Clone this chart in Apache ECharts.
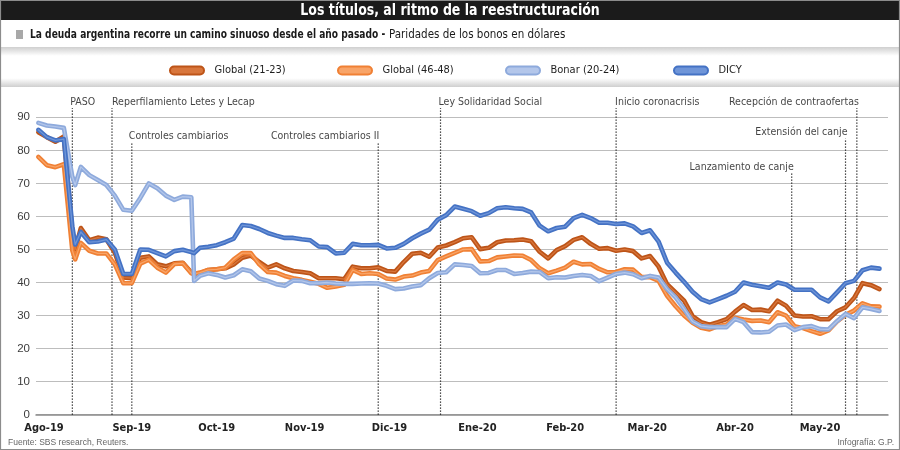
<!DOCTYPE html>
<html><head><meta charset="utf-8">
<script src="https://cdn.jsdelivr.net/npm/echarts@6/dist/echarts.min.js"></script>
<style>html,body{margin:0;padding:0;background:#fff}#c{width:900px;height:450px}</style>
</head><body><div id="c"></div>
<script>
const dates = ['2019-07-30','2019-08-02','2019-08-05','2019-08-08','2019-08-11','2019-08-12','2019-08-14','2019-08-17','2019-08-20','2019-08-23',
'2019-08-26','2019-08-29','2019-09-01','2019-09-04','2019-09-07','2019-09-10','2019-09-13','2019-09-16','2019-09-19','2019-09-22',
'2019-09-23','2019-09-25','2019-09-28','2019-10-01','2019-10-04','2019-10-07','2019-10-10','2019-10-13','2019-10-16','2019-10-19',
'2019-10-22','2019-10-25','2019-10-28','2019-10-31','2019-11-03','2019-11-06','2019-11-09','2019-11-12','2019-11-15','2019-11-18',
'2019-11-21','2019-11-24','2019-11-27','2019-11-30','2019-12-03','2019-12-06','2019-12-09','2019-12-12','2019-12-15','2019-12-18',
'2019-12-21','2019-12-24','2019-12-27','2019-12-30','2020-01-02','2020-01-05','2020-01-08','2020-01-11','2020-01-14','2020-01-17',
'2020-01-20','2020-01-23','2020-01-26','2020-01-29','2020-02-01','2020-02-04','2020-02-07','2020-02-10','2020-02-13','2020-02-16',
'2020-02-19','2020-02-22','2020-02-25','2020-02-28','2020-03-02','2020-03-05','2020-03-08','2020-03-11','2020-03-14','2020-03-17',
'2020-03-20','2020-03-23','2020-03-26','2020-03-29','2020-04-01','2020-04-04','2020-04-07','2020-04-10','2020-04-13','2020-04-16',
'2020-04-19','2020-04-22','2020-04-25','2020-04-28','2020-05-01','2020-05-04','2020-05-07','2020-05-10','2020-05-13','2020-05-16',
'2020-05-19','2020-05-22'];

const global2123 = [85.5,84.0,82.6,84.2,55,50,56.5,52.8,53.6,53.1,
49,41.5,41.3,47.5,47.9,45.5,44.9,45.8,46,43,
42.5,42.8,43.8,44,44.3,45.5,47.5,48.2,46.2,44.5,
45.5,44.3,43.5,43.2,42.8,41.3,41.3,41.3,41,44.8,
44.3,44.3,44.6,43.5,43.3,46.2,48.7,49,47.8,50.6,
51.2,52.2,53.4,53.7,50.1,50.5,52.2,52.7,52.8,53,
52.5,49.3,47.3,49.8,51,52.9,53.7,51.7,50.2,50.4,
49.6,50,49.5,47.3,48,44.8,39.5,37,34.5,29.8,
28,27.2,28,28.9,31.2,33.2,31.7,31.8,31.3,34.5,
33,30,29.7,29.8,28.9,28.9,31.3,32.5,35.3,39.8,
39.2,38];

const global4648 = [78,75.5,74.9,75.8,49.7,47,52,49.6,48.8,48.8,
45.5,39.8,39.8,45.7,46.9,44.5,43,45.6,45.8,42.8,
42.6,43,43.8,44,44.5,47,48.9,48.9,45.5,43.2,
43,42,41.3,40.8,40.2,39.6,38.4,38.8,39.3,43.8,
42.6,42.8,42.6,41.2,40.9,41.8,42.1,43,43.5,46.8,
47.9,49,50,50.1,46.4,46.5,47.6,47.9,48.2,48.1,
46.8,44.3,42.8,43.6,44.5,46.3,45.5,45.6,44.1,43.1,
43.2,44,43.9,41.7,41.6,40.5,36,32.8,30,27.8,
26.3,25.8,26.8,27.3,29.3,28.8,28.4,28.5,28,31,
30,26.8,26.2,25.3,24.5,25.5,28.2,30.2,31.5,33.7,
32.8,32.7];

const bonar2024 = [88.3,87.5,87.2,86.8,72,69.5,75,72.5,71,69.5,
66.3,62,61.7,65.6,70,68.5,66.3,65,66,65.8,
40.5,42,42.8,42.3,41.5,42.2,44,43.4,41.2,40.5,
39.5,39,40.6,40.5,39.8,39.8,40,39.7,39.6,39.6,
39.7,39.8,39.7,39,38,38.2,38.8,39.2,41.3,42.9,
43.1,45.5,45.3,45,42.8,42.9,43.8,43.8,42.6,42.9,
43.3,43.2,41.3,41.6,41.5,42,42.3,42,40.4,41.5,
42.6,43,42.5,41.3,42,41.5,38,35.5,32,28.2,
26.8,26.5,26.5,26.5,29,28,25,24.9,25.1,27,
27.3,25.6,26.5,26.8,25.9,25.8,28.3,30.5,29.2,32.5,
32,31.4];

const dicy = [86.2,84,83,83.4,57,51.5,55.3,52.2,52.4,53,
50,42.6,42.6,50,49.9,48.9,47.9,49.5,49.9,49.2,
48.9,50.5,50.8,51.3,52.2,53.3,57.4,57.1,56.2,55,
54.2,53.5,53.5,53.1,52.8,50.9,50.7,48.8,49,51.7,
51.3,51.3,51.4,50.3,50.5,51.7,53.4,54.8,56,59,
60.4,63,62.3,61.6,60.2,61,62.5,62.8,62.5,62.3,
61.2,57.2,55.5,56.5,56.9,59.5,60.5,59.5,58.1,58.1,
57.7,57.9,57,55,55.8,52.4,46,43,40.2,37.2,
35,34,35,36,37.2,40,39.3,38.9,38.4,40,
39.4,37.8,37.8,37.8,35.5,34.3,37,39.8,40.5,43.7,
44.5,44.2];

const seriesNames = ['Global (21-23)','Global (46-48)','Bonar (20-24)','DICY'];
const monthNames = ['Ene','Feb','Mar','Abr','May','Jun','Jul','Ago','Sep','Oct','Nov','Dic'];
const eventNames = ['PASO','Reperfilamiento Letes y Lecap','Controles cambiarios','Controles cambiarios II','Ley Solidaridad Social','Inicio coronacrisis','Lanzamiento de canje','Extensión del canje','Recepción de contraofertas'];
const eventDates = ['2019-08-11','2019-08-25','2019-09-01','2019-11-27','2019-12-19','2020-02-19','2020-04-21','2020-05-10','2020-05-14'];

// layout of event annotations (label height, line top, side, x nudge)
const eventLayout = [
  {ly:94.6, top:92.8, side:'start', dx:-2},
  {ly:94.6, top:92.8, side:'start', dx:0},
  {ly:84.3, top:82.1, side:'start', dx:-3},
  {ly:84.3, top:82.1, side:'end', dx:1},
  {ly:94.6, top:92.8, side:'start', dx:-2},
  {ly:94.6, top:92.8, side:'start', dx:-1},
  {ly:74.8, top:73.1, side:'end', dx:2},
  {ly:85.4, top:83.6, side:'end', dx:2},
  {ly:94.6, top:92.8, side:'end', dx:2}
];
const legendLefts = [164, 332, 500, 668];

const NARROW = '"DejaVu Sans Condensed","Liberation Sans Narrow",sans-serif';
const REG = '"Liberation Sans",Arial,sans-serif';

const palette = [
  {main:'#bd5418', hl:'#d8763c'},
  {main:'#f08034', hl:'#f8a468'},
  {main:'#8eaadc', hl:'#b3c6ea'},
  {main:'#4472c4', hl:'#6f95d8'}
];
const values = [global2123, global4648, bonar2024, dicy];

const series = [];

// dotted event lines (drawn first, below the data lines)
eventDates.forEach((d, i) => {
  series.push({
    name:'ev' + i, type:'line', clip:false, silent:true, animation:false, symbol:'none',
    data:[[d, 0], [d, eventLayout[i].top]],
    lineStyle:{type:[1.2, 1.8], color:'#1a1a1a', width:1.2}
  });
});

values.forEach((vals, k) => {
  const data = dates.map((d, i) => [d, vals[i]]);
  series.push({
    name: seriesNames[k], type:'line', data, symbol:'none', animation:false,
    lineStyle:{width:4.6, color:palette[k].main, join:'round', cap:'round'},
    itemStyle:{color:palette[k].main}
  });
  series.push({
    name: seriesNames[k] + '_hl', type:'line', data, symbol:'none', animation:false, silent:true,
    lineStyle:{width:1.3, color:palette[k].hl, join:'round', cap:'round'},
    itemStyle:{color:palette[k].hl}
  });
});

series.push({
  name:'eventos', type:'scatter', symbolSize:0, clip:false, silent:true, animation:false,
  data: eventNames.map((n, i) => ({
    name:n, value:[eventDates[i], eventLayout[i].ly],
    label:{position: eventLayout[i].side === 'start' ? 'right' : 'left', distance:0, offset:[eventLayout[i].dx, 0]}
  })),
  label:{show:true, formatter:'{b}', color:'#111', fontSize:10.5, fontFamily:NARROW}
});

const pill = 'path://M4,0 L30,0 A4,4 0 0 1 30,8 L4,8 A4,4 0 0 1 4,0 Z';
const legends = seriesNames.map((n, k) => ({
  left:legendLefts[k], top:60, itemWidth:35, itemHeight:8, icon:pill,
  textStyle:{fontFamily:NARROW, fontSize:11, color:'#1e1e1e', padding:[0,0,0,5]},
  data:[{name:n, itemStyle:{color:palette[k].hl, borderColor:palette[k].main, borderWidth:2}}]
}));

const chart = echarts.init(document.getElementById('c'), null, {renderer:'canvas'});
chart.setOption({
  backgroundColor:'#ffffff',
  animation:false,
  grid:{left:36, right:12, top:117.3, bottom:35.3, outerBoundsMode:'none'},
  legend:legends,
  xAxis:{
    type:'time', min:'2019-07-29T04:00:00', max:'2020-05-25T00:00:00',
    splitNumber:10, maxInterval:31*86400000, minInterval:28*86400000,
    axisLine:{show:true, lineStyle:{color:'#8a8a8a', width:1.5}},
    axisTick:{show:false},
    splitLine:{show:false},
    axisLabel:{
      margin:8, color:'#222', fontWeight:'bold', fontSize:11, fontFamily:NARROW,
      showMinLabel:false, showMaxLabel:false,
      formatter:function(v){ const d = new Date(v); return monthNames[d.getMonth()] + '-' + String(d.getFullYear()).slice(2); }
    }
  },
  yAxis:{
    type:'value', min:0, max:90, interval:10,
    axisLine:{show:false}, axisTick:{show:false},
    splitLine:{lineStyle:{color:'#bdbdbd', width:1}},
    axisLabel:{margin:6, color:'#3c3c3c', fontSize:11.5, fontFamily:REG}
  },
  graphic:[
    {type:'rect', shape:{x:0, y:0, width:900, height:20}, style:{fill:'#1b1b1b'}},
    {type:'text', x:450, y:10.5, scaleX:0.87, style:{x:0, y:0, text:'Los títulos, al ritmo de la reestructuración', fill:'#ffffff',
      font:'bold 16px ' + NARROW, align:'center', verticalAlign:'middle', textAlign:'center', textVerticalAlign:'middle'}},
    {type:'rect', shape:{x:16, y:30, width:7, height:9}, style:{fill:'#a8a8a8'}},
    {type:'text', x:30, y:35, scaleX:0.81, style:{x:0, y:0, text:'La deuda argentina recorre un camino sinuoso desde el año pasado -',
      font:'bold 12.5px ' + NARROW, fill:'#1a1a1a', verticalAlign:'middle', textVerticalAlign:'middle'}},
    {type:'text', x:389, y:35, scaleX:0.92, style:{x:0, y:0, text:'Paridades de los bonos en dólares',
      font:'12.5px ' + NARROW, fill:'#1a1a1a', verticalAlign:'middle', textVerticalAlign:'middle'}},
    {type:'rect', shape:{x:1, y:47, width:898, height:40},
      style:{fill:new echarts.graphic.LinearGradient(0,0,0,1,[
        {offset:0, color:'#cfcfcf'},{offset:0.22, color:'#ffffff'},{offset:0.78, color:'#ffffff'},{offset:1, color:'#cfcfcf'}])}},
    {type:'text', style:{x:8, y:442.5, text:'Fuente: SBS research, Reuters.', fill:'#666', font:'8.5px ' + REG, verticalAlign:'middle', textVerticalAlign:'middle'}},
    {type:'text', style:{x:894, y:442.5, text:'Infografía: G.P.', fill:'#666', font:'8.5px ' + REG, align:'right', textAlign:'right', verticalAlign:'middle', textVerticalAlign:'middle'}},
    {type:'rect', z:100, shape:{x:0.5, y:0.5, width:899, height:449}, style:{fill:'none', stroke:'#8c8c8c', lineWidth:1.2}}
  ],
  series
});
</script></body></html>
